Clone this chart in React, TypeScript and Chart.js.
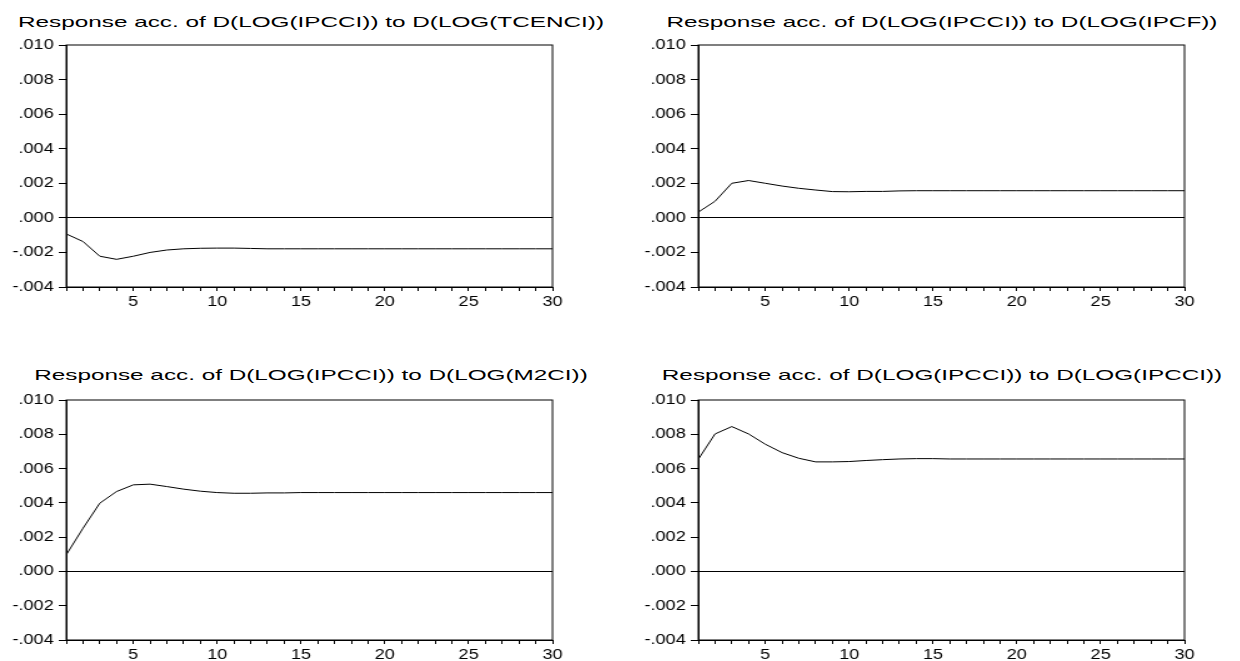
import React, { useEffect, useRef } from 'react';
import { Chart, registerables } from 'chart.js';

Chart.register(...registerables);

// ---- data ----
const periods = [1, 2, 3, 4, 5, 6, 7, 8, 9, 10, 11, 12, 13, 14, 15, 16, 17, 18, 19, 20, 21, 22, 23, 24, 25, 26, 27, 28, 29, 30];

const respTCENCI = [
  -0.00093, -0.00137, -0.00222, -0.0024, -0.00222, -0.002, -0.00186, -0.00179, -0.00176, -0.00175,
  -0.00175, -0.00177, -0.00179, -0.00179, -0.00179, -0.00179, -0.00179, -0.00179, -0.00179, -0.00179,
  -0.00179, -0.00179, -0.00179, -0.00179, -0.00179, -0.00179, -0.00179, -0.00179, -0.00179, -0.00179,
];

const respIPCF = [
  0.00033, 0.00096, 0.002, 0.00216, 0.002, 0.00184, 0.00171, 0.00161, 0.00152, 0.00151,
  0.00153, 0.00153, 0.00156, 0.00157, 0.00157, 0.00157, 0.00157, 0.00157, 0.00157, 0.00157,
  0.00157, 0.00157, 0.00157, 0.00157, 0.00157, 0.00157, 0.00157, 0.00157, 0.00157, 0.00157,
];

const respM2CI = [
  0.00097, 0.00252, 0.00398, 0.00466, 0.00505, 0.00509, 0.00495, 0.0048, 0.00468, 0.0046,
  0.00456, 0.00456, 0.00458, 0.00458, 0.0046, 0.0046, 0.0046, 0.0046, 0.0046, 0.0046,
  0.0046, 0.0046, 0.0046, 0.0046, 0.0046, 0.0046, 0.0046, 0.0046, 0.0046, 0.0046,
];

const respIPCCI = [
  0.00654, 0.00802, 0.00845, 0.00802, 0.00742, 0.00693, 0.0066, 0.00639, 0.00639, 0.00641,
  0.00647, 0.00652, 0.00656, 0.00658, 0.00658, 0.00656, 0.00656, 0.00656, 0.00656, 0.00656,
  0.00656, 0.00656, 0.00656, 0.00656, 0.00656, 0.00656, 0.00656, 0.00656, 0.00656, 0.00656,
];

const panelTitles = [
  'Response acc. of D(LOG(IPCCI)) to D(LOG(TCENCI))',
  'Response acc. of D(LOG(IPCCI)) to D(LOG(IPCF))',
  'Response acc. of D(LOG(IPCCI)) to D(LOG(M2CI))',
  'Response acc. of D(LOG(IPCCI)) to D(LOG(IPCCI))',
];

const Y_MIN = -0.004;
const Y_MAX = 0.01;
const Y_STEP = 0.002;
const X_MIN = 1;
const X_MAX = 30;

// ---- layout (EViews-like horizontally stretched graph) ----
const FONT = "'Liberation Sans', Arial, sans-serif";
const STRETCH = 1.25;
const NAT_W = 480;
const CANVAS_H = 290;
const PLOT_L = 53;
const PLOT_R = 442;
const PLOT_T = 15;

const fmtY = (v: number) => {
  const s = Math.abs(v) < 1e-9 ? '0.000' : Number(v).toFixed(3);
  return s.replace('0.', '.');
};

const framePlugin = {
  id: 'frame',
  afterDraw(chart: any) {
    const { ctx, chartArea } = chart;
    ctx.save();
    ctx.strokeStyle = '#000';
    ctx.lineWidth = 1;
    ctx.strokeRect(chartArea.left, chartArea.top, chartArea.right - chartArea.left, chartArea.bottom - chartArea.top);
    ctx.restore();
  },
};

function Panel(props: { title: string; values: number[]; left: number; top: number; plotBottom: number; titleTop: number }) {
  const ref = useRef<HTMLCanvasElement | null>(null);
  const { title, values, left, top, plotBottom, titleTop } = props;

  useEffect(() => {
    if (!ref.current) return;
    const chart = new Chart(ref.current, {
      type: 'line',
      data: {
        datasets: [
          {
            data: periods.map((p, i) => ({ x: p, y: values[i] })),
            borderColor: '#000',
            borderWidth: 1,
            pointRadius: 0,
            tension: 0,
            fill: false,
          },
        ],
      },
      options: {
        animation: false,
        responsive: false,
        devicePixelRatio: 1,
        events: [],
        layout: { padding: { left: 0, right: NAT_W - PLOT_R, top: PLOT_T, bottom: 0 } },
        plugins: { legend: { display: false }, tooltip: { enabled: false }, title: { display: false } },
        scales: {
          x: {
            type: 'linear',
            min: X_MIN,
            max: X_MAX,
            afterFit: (s: any) => {
              s.height = CANVAS_H - plotBottom;
            },
            border: { display: true, color: '#000', width: 1 },
            grid: { drawOnChartArea: false, drawTicks: true, tickLength: 4, tickColor: '#000' },
            ticks: {
              stepSize: 1,
              autoSkip: false,
              maxRotation: 0,
              padding: 2,
              color: '#000',
              font: { family: FONT, size: 14.5 },
              callback: (v: any) => (Number(v) % 5 === 0 ? String(v) : ''),
            },
          },
          y: {
            min: Y_MIN,
            max: Y_MAX,
            afterFit: (s: any) => {
              s.width = PLOT_L;
            },
            border: { display: true, color: '#000', width: 1 },
            grid: {
              drawOnChartArea: true,
              drawTicks: true,
              tickLength: 6,
              tickColor: '#000',
              lineWidth: 1,
              color: (c: any) => (c.tick && Math.abs(c.tick.value) < 1e-9 ? '#000' : 'rgba(0,0,0,0)'),
            },
            ticks: {
              stepSize: Y_STEP,
              padding: 4,
              color: '#000',
              font: { family: FONT, size: 14.5 },
              callback: (v: any) => fmtY(Number(v)),
            },
          },
        },
      } as any,
      plugins: [framePlugin],
    });
    return () => chart.destroy();
  }, []);

  const plotCenter = ((PLOT_L + PLOT_R) / 2) * STRETCH;

  return (
    <>
      <div
        style={{
          position: 'absolute',
          left: left + plotCenter + 1.5,
          top: titleTop,
          fontFamily: FONT,
          fontSize: 15,
          lineHeight: '15px',
          color: '#000',
          whiteSpace: 'nowrap',
          transform: 'translateX(-50%) scaleX(1.62)',
          transformOrigin: 'center',
        }}
      >
        {title}
      </div>
      <canvas
        ref={ref}
        width={NAT_W}
        height={CANVAS_H}
        style={{
          position: 'absolute',
          left,
          top,
          width: NAT_W * STRETCH + 'px',
          height: CANVAS_H + 'px',
        }}
      />
    </>
  );
}

export default function App() {
  return (
    <div
      style={{
        position: 'fixed',
        left: 0,
        top: 0,
        width: 1240,
        height: 661,
        overflow: 'hidden',
        background: '#fff',
      }}
    >
      <Panel title={panelTitles[0]} values={respTCENCI} left={0} top={30} plotBottom={257} titleTop={14.3} />
      <Panel title={panelTitles[1]} values={respIPCF} left={631.6} top={30} plotBottom={257} titleTop={14.3} />
      <Panel title={panelTitles[2]} values={respM2CI} left={0} top={385} plotBottom={255} titleTop={367.3} />
      <Panel title={panelTitles[3]} values={respIPCCI} left={631.6} top={385} plotBottom={255} titleTop={367.3} />
    </div>
  );
}
